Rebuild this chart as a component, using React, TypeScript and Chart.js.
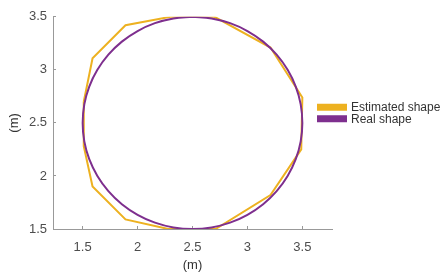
import React, { useEffect, useRef } from "react";
import { Chart, registerables } from "chart.js";

Chart.register(...registerables);

// Estimated shape (polygon vertices, closed)
const estimatedX = [1.51, 1.59, 1.89, 2.3, 2.7, 3.21, 3.5, 3.49, 3.21, 2.71, 2.28, 1.89, 1.59, 1.51, 1.51];
const estimatedY = [2.7, 3.11, 3.42, 3.5, 3.5, 3.21, 2.74, 2.25, 1.82, 1.5, 1.5, 1.59, 1.9, 2.28, 2.7];

// Real shape (circle, points every 10 degrees)
const realX = [
  2.5, 2.326, 2.158, 2.0, 1.857, 1.734, 1.634, 1.56, 1.515, 1.5, 1.515, 1.56, 1.634, 1.734, 1.857, 2.0, 2.158, 2.326,
  2.5, 2.674, 2.842, 3.0, 3.143, 3.266, 3.366, 3.44, 3.485, 3.5, 3.485, 3.44, 3.366, 3.266, 3.143, 3.0, 2.842, 2.674, 2.5,
];
const realY = [
  3.5, 3.485, 3.44, 3.366, 3.266, 3.143, 3.0, 2.842, 2.674, 2.5, 2.326, 2.158, 2.0, 1.857, 1.734, 1.634, 1.56, 1.515,
  1.5, 1.515, 1.56, 1.634, 1.734, 1.857, 2.0, 2.158, 2.326, 2.5, 2.674, 2.842, 3.0, 3.143, 3.266, 3.366, 3.44, 3.485, 3.5,
];

const seriesLabels = ["Estimated shape", "Real shape"];
const seriesColors = ["#EDB120", "#7E2F8E"];
const xTicks = [1.5, 2, 2.5, 3, 3.5];
const yTicks = [1.5, 2, 2.5, 3, 3.5];
const axisTitle = "(m)";

const FONT = "'Liberation Sans', Arial, Helvetica, sans-serif";

const sideLegend = {
  id: "sideLegend",
  afterDraw(chart: any) {
    const { ctx, chartArea } = chart;
    const x0 = chartArea.right - 15;
    const yMid = 113;
    const rowH = 11.5;
    const ds = chart.data.datasets;
    ctx.save();
    ctx.font = "12px " + FONT;
    ctx.textBaseline = "middle";
    ctx.textAlign = "left";
    ds.forEach((d: any, i: number) => {
      const cy = yMid + (i - (ds.length - 1) / 2) * rowH;
      ctx.fillStyle = d.borderColor;
      ctx.fillRect(x0, cy - 3.5, 30, 7);
      ctx.fillStyle = "#333333";
      ctx.fillText(d.label, x0 + 34, cy + 0.5);
    });
    ctx.restore();
  },
};

export default function App() {
  const ref = useRef<HTMLCanvasElement>(null);
  useEffect(() => {
    const canvas = ref.current!;
    const chart = new Chart(canvas, {
      type: "scatter",
      data: {
        datasets: [
          {
            label: seriesLabels[0],
            data: estimatedX.map((x, i) => ({ x, y: estimatedY[i] })),
            borderColor: seriesColors[0],
            backgroundColor: seriesColors[0],
            showLine: true,
            borderWidth: 2,
            pointRadius: 0,
            order: 1,
          },
          {
            label: seriesLabels[1],
            data: realX.map((x, i) => ({ x, y: realY[i] })),
            borderColor: seriesColors[1],
            backgroundColor: seriesColors[1],
            showLine: true,
            borderWidth: 2,
            pointRadius: 0,
            tension: 0.4,
            order: 0,
          },
        ],
      },
      options: {
        responsive: false,
        animation: false,
        layout: { padding: { top: 9, right: 111, left: 0, bottom: 0 } },
        plugins: { legend: { display: false }, tooltip: { enabled: false } },
        scales: {
          x: {
            type: "linear",
            min: 1.23,
            max: 3.77,
            afterBuildTicks: (s: any) => {
              s.ticks = xTicks.map((v) => ({ value: v }));
            },
            afterFit: (s: any) => {
              s.height = 51;
            },
            grid: { drawOnChartArea: false, drawTicks: true, tickLength: -3, color: "#999999" },
            border: { display: true, color: "#999999", width: 1 },
            ticks: {
              color: "#4d4d4d",
              font: { family: FONT, size: 13 },
              padding: 14,
              maxRotation: 0,
              callback: (v: any) => String(v),
            },
            title: {
              display: true,
              text: axisTitle,
              color: "#333333",
              font: { family: FONT, size: 13 },
              padding: { top: 0, bottom: 7 },
            },
          },
          y: {
            type: "linear",
            min: 1.5,
            max: 3.5,
            afterBuildTicks: (s: any) => {
              s.ticks = yTicks.map((v) => ({ value: v }));
            },
            afterFit: (s: any) => {
              s.width = 53;
            },
            grid: { drawOnChartArea: false, drawTicks: true, tickLength: -3, color: "#999999" },
            border: { display: true, color: "#999999", width: 1 },
            ticks: {
              color: "#4d4d4d",
              font: { family: FONT, size: 13 },
              padding: 9,
              callback: (v: any) => String(v),
            },
            title: {
              display: true,
              text: axisTitle,
              color: "#333333",
              font: { family: FONT, size: 13 },
              padding: { top: 7, bottom: 0 },
            },
          },
        },
      },
      plugins: [sideLegend],
    });
    return () => chart.destroy();
  }, []);
  return (
    <div style={{ position: "fixed", left: 0, top: 0, width: 443, height: 280, background: "#fff" }}>
      <canvas ref={ref} width={443} height={280} style={{ display: "block" }} />
    </div>
  );
}
